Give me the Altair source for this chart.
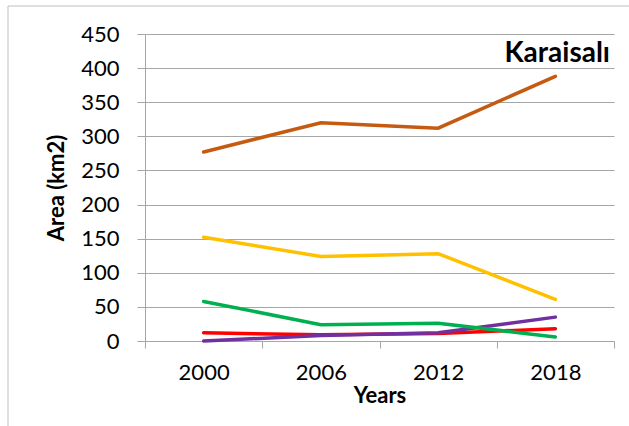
import altair as alt
import pandas as pd

# Survey years and area per land-cover class (km2)
years = ["2000", "2006", "2012", "2018"]
orange_vals = [277, 320, 312, 388]
yellow_vals = [152, 124, 128, 61]
red_vals = [12, 9, 11, 18]
purple_vals = [0, 8, 12, 35]
green_vals = [58, 24, 26, 6]

series_names = ["orange", "yellow", "red", "purple", "green"]
series_colors = ["#C55A11", "#FFC000", "#FF0000", "#7030A0", "#00B050"]
series_values = [orange_vals, yellow_vals, red_vals, purple_vals, green_vals]

y_ticks = [0, 50, 100, 150, 200, 250, 300, 350, 400, 450]

rows = []
for k, (name, vals) in enumerate(zip(series_names, series_values)):
    for yr, v in zip(years, vals):
        rows.append({"Year": yr, "Area": v, "Series": name, "k": k})
df = pd.DataFrame(rows)

W, H = 469, 307
FONT = "Lato"
GRID = "#A6A6A6"

lines = alt.Chart(df).mark_line(strokeWidth=3.5, strokeCap="round").encode(
    x=alt.X(
        "Year:O",
        scale=alt.Scale(type="band", paddingInner=0, paddingOuter=0),
        axis=alt.Axis(
            title="Years",
            labelAngle=0,
            tickBand="extent",
            tickSize=7,
            labelPadding=14,
            titlePadding=2,
            domainColor=GRID,
            tickColor=GRID,
            grid=False,
        ),
    ),
    y=alt.Y(
        "Area:Q",
        scale=alt.Scale(domain=[0, 450], nice=False),
        axis=alt.Axis(
            title="Area (km2)",
            values=y_ticks,
            tickSize=8,
            labelPadding=18,
            titlePadding=12,
            domainColor=GRID,
            tickColor=GRID,
            grid=True,
            gridColor=GRID,
        ),
    ),
    color=alt.Color(
        "Series:N",
        scale=alt.Scale(domain=series_names, range=series_colors),
        legend=None,
    ),
    order="k:Q",
)

label_df = pd.DataFrame({"name": ["Karaisalı"]})
place_label = alt.Chart(label_df).mark_text(
    font=FONT, fontSize=28, fontWeight="bold", align="right", baseline="alphabetic", color="#000000"
).encode(x=alt.value(W - 4), y=alt.value(28), text="name:N")

# light frame around the whole figure
frame_left = alt.Chart(label_df).mark_rule(color="#BFBFBF", strokeWidth=1).encode(
    x=alt.value(-137), y=alt.value(-28), y2=alt.value(H + 90)
)
frame_top = alt.Chart(label_df).mark_rule(color="#BFBFBF", strokeWidth=1).encode(
    y=alt.value(-28), x=alt.value(-137), x2=alt.value(W + 20)
)

chart = (
    alt.layer(frame_left, frame_top, lines, place_label)
    .properties(
        width=W,
        height=H,
        autosize=alt.AutoSizeParams(type="none"),
        padding={"left": 145, "top": 34, "right": 15, "bottom": 85},
    )
    .configure(background="#FFFFFF")
    .configure_view(stroke=None)
    .configure_axis(
        labelFont=FONT,
        labelFontSize=22,
        labelColor="#000000",
        titleFont=FONT,
        titleFontSize=22,
        titleFontWeight="bold",
        titleColor="#000000",
    )
)

chart.save("out.html", embed_options={"renderer": "svg", "actions": False})
